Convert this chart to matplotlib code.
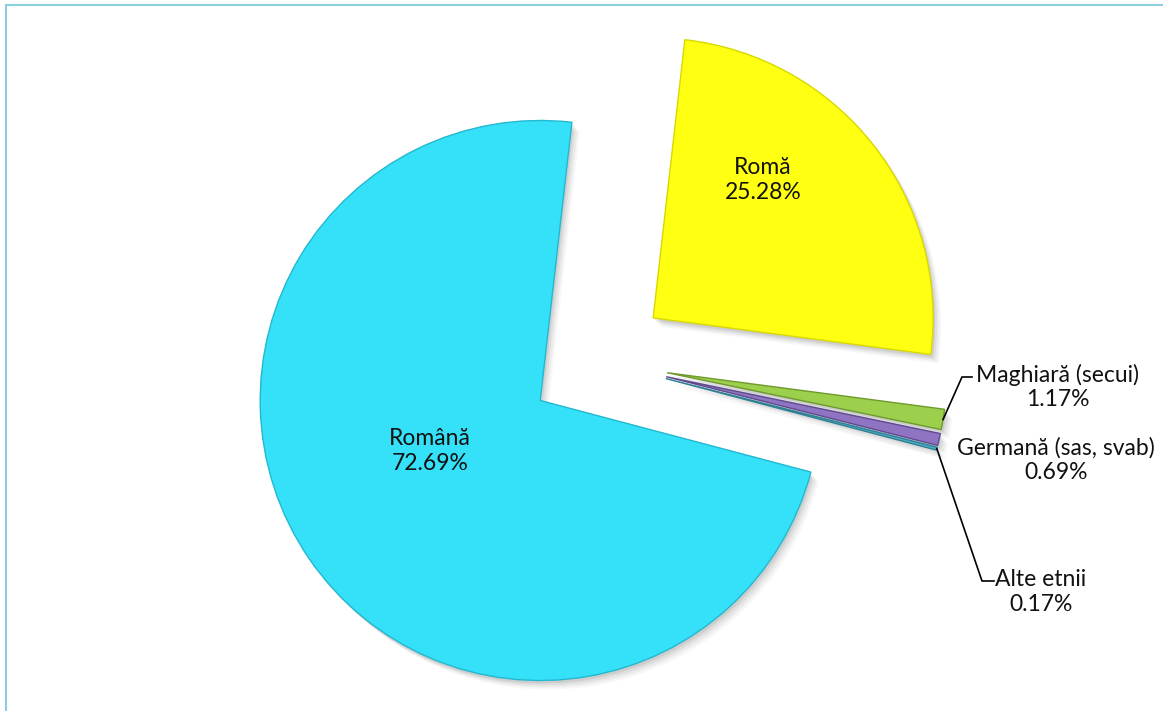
import numpy as np
import matplotlib
matplotlib.use("Agg")
import matplotlib.pyplot as plt
from matplotlib.patches import Wedge

# ---- data ----
categories = ["Romă", "Maghiară (secui)", "Germană (sas, svab)", "Alte etnii", "Română"]
values = [25.28, 1.17, 0.69, 0.17, 72.69]
pct_labels = ["25.28%", "1.17%", "0.69%", "0.17%", "72.69%"]
colors = ["#FFFF12", "#9CCF4C", "#8E74C2", "#4BACC6", "#35E1F9"]
edge_colors = ["#D8D800", "#6E9A2C", "#5E4A8E", "#2F7F95", "#22B8D0"]
explode_frac = [0.25, 0.25, 0.25, 0.25, 0.25]

W, H = 1163, 711
fig = plt.figure(figsize=(W / 100, H / 100), dpi=100)
ax = fig.add_axes([0, 0, 1, 1])

center = (598, H - 361)
R = 280

wedges, _ = ax.pie(values, startangle=83.5, counterclock=False, radius=R,
                   center=center, explode=[e * R for e in explode_frac],
                   colors=colors, wedgeprops=dict(linewidth=1.0, zorder=3))
for w, ec in zip(wedges, edge_colors):
    w.set_edgecolor(ec)

# soft drop shadow
for w in wedges:
    for dx, dy, a in [(2, -3, 0.10), (4, -5, 0.08), (6, -7, 0.06), (8, -9, 0.04)]:
        s = Wedge((w.center[0] + dx, w.center[1] + dy), w.r, w.theta1, w.theta2,
                  facecolor="#404040", edgecolor="none", alpha=a, zorder=2)
        ax.add_patch(s)

ax.set_xlim(0, W)
ax.set_ylim(0, H)
ax.set_aspect("equal")
ax.axis("off")

# outer frame lines (top and left)
ax.plot([6, W], [H - 5, H - 5], color="#8CCFDC", lw=1.5, zorder=1)
ax.plot([6, 6], [H - 5, 0], color="#8CCFDC", lw=1.5, zorder=1)

font = dict(family=["Lato", "DejaVu Sans"], fontsize=16.5, color="#111111",
            ha="center", va="center", linespacing=1.22, zorder=5)

def label(i, x, y):
    ax.text(x, y, f"{categories[i]}\n{pct_labels[i]}", **font)

label(0, 763, H - 180)
label(4, 430, H - 451)
label(1, 1058, H - 387)
label(2, 1056, H - 460)
label(3, 1041, H - 592)

def tip(w):
    ang = np.deg2rad((w.theta1 + w.theta2) / 2)
    return (w.center[0] + w.r * np.cos(ang), w.center[1] + w.r * np.sin(ang))

# leader lines
tx, ty = tip(wedges[1])
ax.plot([tx, 962, 972], [ty, H - 377, H - 377], color="black", lw=1.2, zorder=4)
tx, ty = tip(wedges[3])
ax.plot([tx, 982, 994], [ty, H - 581, H - 581], color="black", lw=1.2, zorder=4)

fig.savefig("out.png", dpi=100)
